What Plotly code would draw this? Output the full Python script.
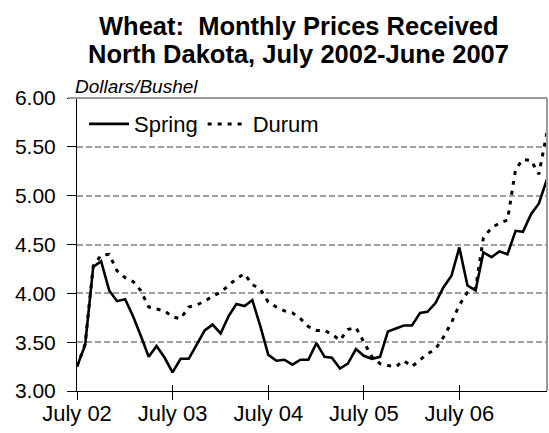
import plotly.graph_objects as go
import pandas as pd

# ---- data (dollars per bushel, July 2002 - June 2007) ----
months = pd.date_range("2002-07-01", "2007-06-01", freq="MS")

spring = [3.25, 3.47, 4.27, 4.33, 4.03, 3.92, 3.94, 3.76, 3.57, 3.35, 3.46, 3.34,
          3.19, 3.33, 3.33, 3.47, 3.62, 3.68, 3.59, 3.77, 3.89, 3.87, 3.93, 3.66,
          3.37, 3.31, 3.32, 3.27, 3.32, 3.32, 3.49, 3.35, 3.34, 3.23, 3.28, 3.43,
          3.36, 3.33, 3.35, 3.61, 3.64, 3.67, 3.67, 3.80, 3.81, 3.90, 4.06, 4.18,
          4.47, 4.08, 4.03, 4.42, 4.37, 4.43, 4.40, 4.64, 4.63, 4.81, 4.92, 5.17]

durum = [3.25, 3.48, 4.28, 4.39, 4.40, 4.23, 4.16, 4.12, 4.03, 3.86, 3.84, 3.82,
         3.76, 3.74, 3.86, 3.88, 3.92, 3.97, 4.01, 4.08, 4.15, 4.20, 4.09, 4.04,
         3.91, 3.86, 3.82, 3.80, 3.74, 3.66, 3.62, 3.62, 3.58, 3.52, 3.63, 3.65,
         3.50, 3.35, 3.28, 3.26, 3.25, 3.31, 3.25, 3.32, 3.38, 3.43, 3.55, 3.70,
         3.88, 4.01, 4.05, 4.57, 4.67, 4.72, 4.75, 5.27, 5.37, 5.36, 5.22, 5.65]

x_tick_vals = ["2002-07-01", "2003-07-01", "2004-07-01", "2005-07-01", "2006-07-01"]
x_tick_text = ["July 02", "July 03", "July 04", "July 05", "July 06"]
y_tick_vals = [3.0, 3.5, 4.0, 4.5, 5.0, 5.5, 6.0]
y_tick_text = ["3.00", "3.50", "4.00", "4.50", "5.00", "5.50", "6.00"]

FONT = "Liberation Sans, Arial, Helvetica, sans-serif"

fig = go.Figure()
fig.add_trace(go.Scatter(x=months, y=spring, name="Spring", mode="lines",
                         line=dict(color="black", width=2.6)))
fig.add_trace(go.Scatter(x=months, y=durum, name="Durum", mode="lines",
                         line=dict(color="black", width=3, dash="4px,6px")))
# invisible trace carrying the overlay axis that draws the inner half of the x ticks
fig.add_trace(go.Scatter(x=[months[0]], y=[spring[0]], xaxis="x2", mode="markers",
                         marker=dict(opacity=0), showlegend=False, hoverinfo="skip"))

xrange = [months[0], months[-1]]

fig.update_layout(
    width=549, height=433,
    margin=dict(l=77, r=2, t=98, b=42),
    paper_bgcolor="white", plot_bgcolor="white",
    font=dict(family=FONT, color="black"),
    showlegend=True,
    legend=dict(orientation="h", x=0.015, xanchor="left", y=0.911, yanchor="middle",
                font=dict(size=22, family=FONT, color="black"),
                bgcolor="rgba(0,0,0,0)", itemwidth=40, tracegroupgap=0),
    xaxis=dict(type="date", range=xrange, tickvals=x_tick_vals, ticktext=x_tick_text,
               ticks="outside", ticklen=8, tickwidth=1, tickcolor="black",
               showline=True, linecolor="black", linewidth=1,
               showgrid=False, zeroline=False, ticklabelstandoff=-5,
               tickfont=dict(size=22, family=FONT, color="black")),
    xaxis2=dict(type="date", range=xrange, overlaying="x", anchor="y", side="bottom",
                tickvals=x_tick_vals, ticks="inside", ticklen=6, tickwidth=1,
                tickcolor="black", showticklabels=False, showline=False,
                showgrid=False, zeroline=False),
    yaxis=dict(range=[3, 6], tickvals=y_tick_vals, ticktext=y_tick_text,
               ticks="outside", ticklen=9, tickwidth=1, tickcolor="black",
               showline=True, linecolor="black", linewidth=1,
               showgrid=True, gridcolor="#a0a0a0", gridwidth=1.5, griddash="6px,3px",
               zeroline=False, ticklabelstandoff=7,
               tickfont=dict(size=21, family=FONT, color="black")),
    shapes=[
        dict(type="line", xref="paper", yref="paper", x0=-0.019, x1=1, y0=1, y1=1,
             line=dict(color="#999999", width=2)),
        dict(type="line", xref="paper", yref="paper", x0=1, x1=1, y0=0, y1=1,
             line=dict(color="#999999", width=2)),
    ],
    annotations=[
        dict(text="<b>Wheat:  Monthly Prices Received</b>", xref="paper", yref="paper",
             x=0.4713, y=1.247, xanchor="center", yanchor="middle", showarrow=False,
             font=dict(size=25.5, family=FONT, color="black")),
        dict(text="<b>North Dakota, July 2002-June 2007</b>", xref="paper", yref="paper",
             x=0.4713, y=1.150, xanchor="center", yanchor="middle", showarrow=False,
             font=dict(size=25.5, family=FONT, color="black")),
        dict(text="<i>Dollars/Bushel</i>", xref="paper", yref="paper",
             x=-0.009, y=1.0389, xanchor="left", yanchor="middle", showarrow=False,
             font=dict(size=19, family=FONT, color="black")),
    ],
)

fig.write_html("out.html",
               config={"displayModeBar": False},
               post_script="document.body.style.margin='0px';"
                           "document.body.style.overflow='hidden';")
